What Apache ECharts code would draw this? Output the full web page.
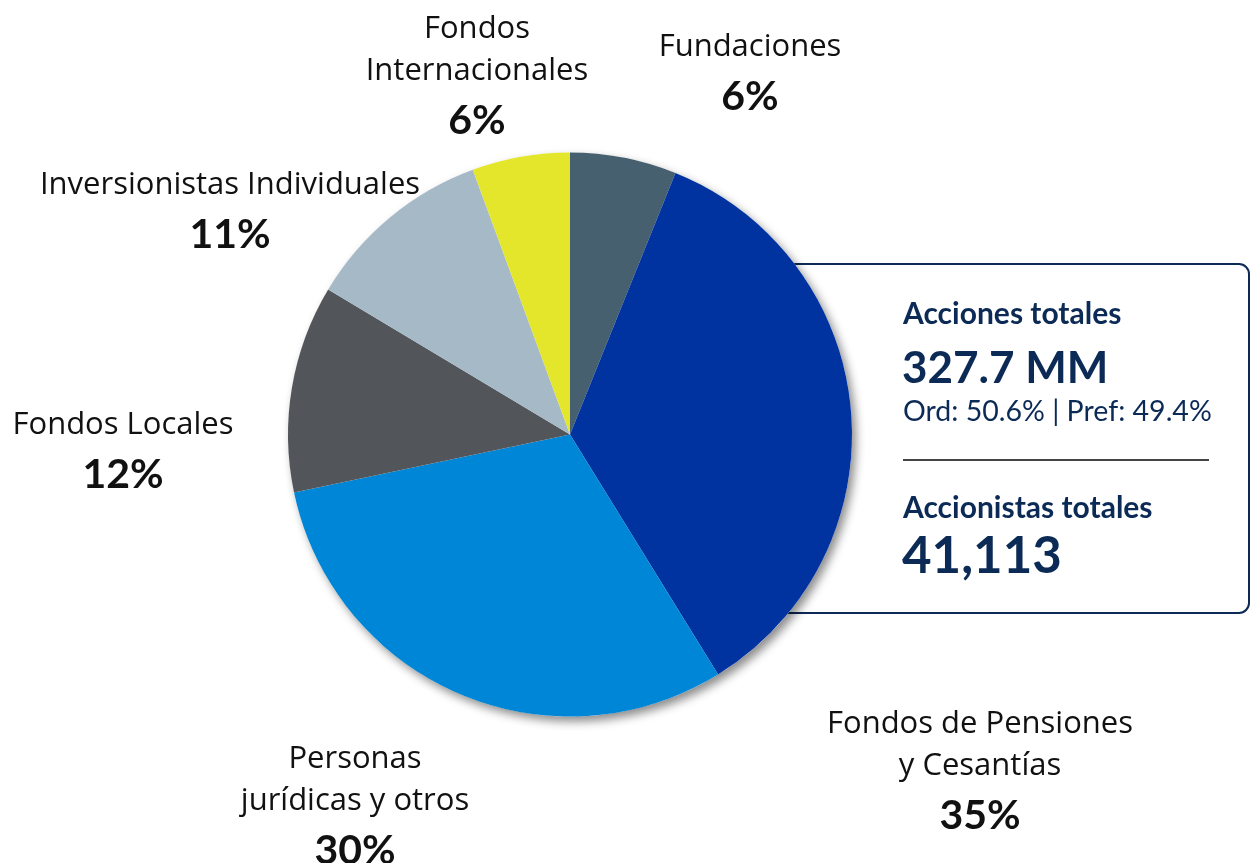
<!DOCTYPE html>
<html>
<head>
<meta charset="utf-8">
<script src="https://cdn.jsdelivr.net/npm/echarts@6/dist/echarts.min.js"></script>
<style>
html,body{margin:0;padding:0;background:#fff;}
#chart{width:1250px;height:863px;}
</style>
</head>
<body>
<div id="chart"></div>
<script>
// ---- data ----
const categories = ['Fundaciones', 'Fondos de Pensiones\ny Cesantías', 'Personas\njurídicas y otros', 'Fondos Locales', 'Inversionistas Individuales', 'Fondos\nInternacionales'];
const shares = [6.1, 35.1, 30.5, 11.9, 10.8, 5.6];
const shareLabels = ['6%', '35%', '30%', '12%', '11%', '6%'];
const colors = ['#46606f', '#0033a0', '#0086d6', '#525559', '#a6b9c7', '#e3e62a'];
const boxTexts = ['Acciones totales', '327.7 MM', 'Ord: 50.6% | Pref: 49.4%', 'Accionistas totales', '41,113'];

// ---- layout ----
const labelPos = [[750, 26], [980, 703], [355, 738], [123, 404], [230, 164], [477, 8]];
const navy = '#0c2a56';
const fontFam = 'Lato, "Open Sans", sans-serif';
const nameFam = '"Open Sans", Lato, sans-serif';

const chart = echarts.init(document.getElementById('chart'), null, {renderer: 'canvas'});

const option = {
  backgroundColor: '#ffffff',
  animation: false,
  graphic: [
    {type: 'rect', z: 0, shape: {x: 700, y: 264, width: 549, height: 349, r: 10},
     style: {fill: '#ffffff', stroke: navy, lineWidth: 2}},
    {type: 'text', z: 5, x: 903, y: 314, style: {text: boxTexts[0], fill: navy, font: 'bold 30px ' + fontFam, textVerticalAlign: 'middle'}},
    {type: 'text', z: 5, x: 902, y: 369, style: {text: boxTexts[1], fill: navy, font: 'bold 44px ' + fontFam, textVerticalAlign: 'middle'}},
    {type: 'text', z: 5, x: 903, y: 412, style: {text: boxTexts[2], fill: navy, font: '28.5px ' + fontFam, textVerticalAlign: 'middle'}},
    {type: 'line', z: 5, shape: {x1: 903, y1: 460, x2: 1209, y2: 460}, style: {stroke: '#444444', lineWidth: 2}},
    {type: 'text', z: 5, x: 903, y: 508, style: {text: boxTexts[3], fill: navy, font: 'bold 30px ' + fontFam, textVerticalAlign: 'middle'}},
    {type: 'text', z: 5, x: 902, y: 557, style: {text: boxTexts[4], fill: navy, font: 'bold 51px ' + fontFam, textVerticalAlign: 'middle'}}
  ],
  series: [
    {
      type: 'pie', z: 1, silent: true,
      center: [570, 434.5], radius: 282,
      label: {show: false}, labelLine: {show: false},
      itemStyle: {color: '#ffffff', shadowBlur: 10, shadowOffsetX: 4, shadowOffsetY: 5, shadowColor: 'rgba(0,0,0,0.45)'},
      data: [{value: 1}]
    },
    {
      type: 'pie', z: 2,
      center: [570, 434.5], radius: 282,
      startAngle: 90, clockwise: true,
      avoidLabelOverlap: false,
      itemStyle: {borderWidth: 0},
      labelLine: {show: false},
      label: {
        show: true,
        position: 'outside',
        formatter: function (p) {
          return '{n|' + p.name + '}\n{p|' + shareLabels[p.dataIndex] + '}';
        },
        rich: {
          n: {fontFamily: nameFam, fontSize: 31, color: '#111111', lineHeight: 42, align: 'center'},
          p: {fontFamily: fontFam, fontSize: 41, fontWeight: 'bold', color: '#111111', lineHeight: 58, align: 'center'}
        }
      },
      labelLayout: function (params) {
        const pos = labelPos[params.dataIndex];
        return {x: pos[0], y: pos[1], align: 'center', verticalAlign: 'top'};
      },
      data: categories.map(function (c, i) {
        return {name: c, value: shares[i], itemStyle: {color: colors[i]}};
      })
    }
  ]
};
chart.setOption(option);
</script>
</body>
</html>
